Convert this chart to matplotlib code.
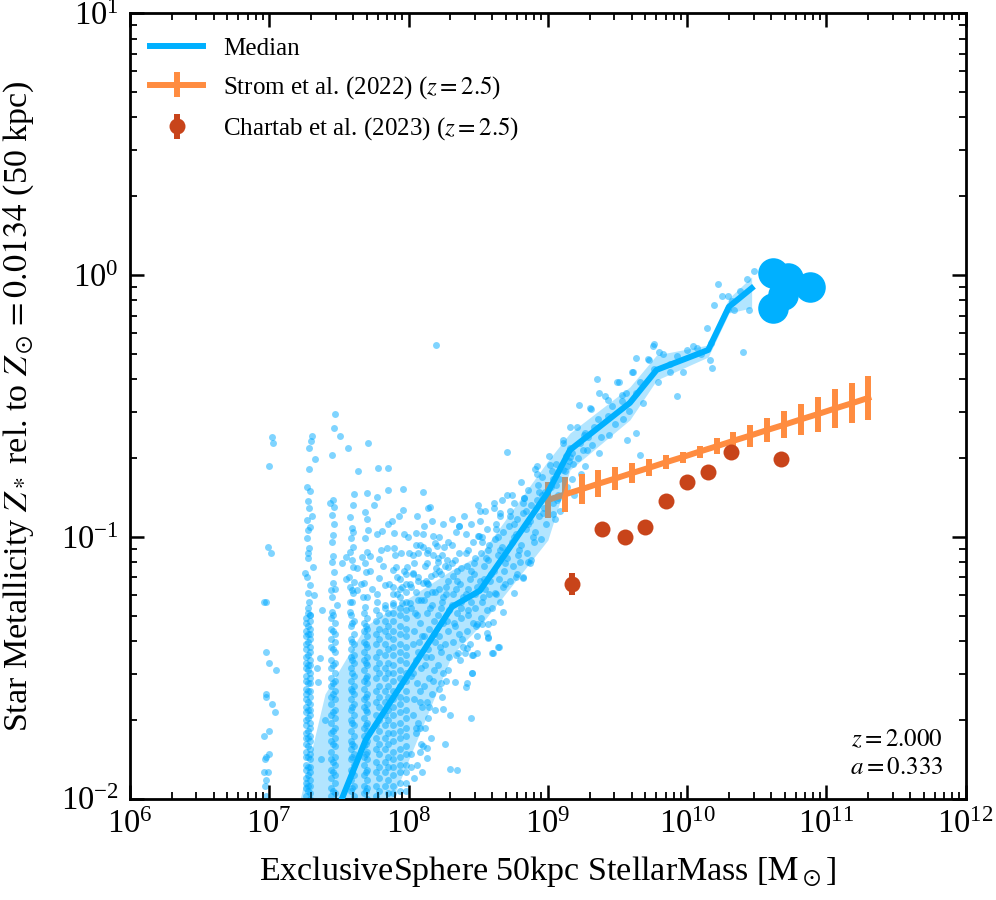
import numpy as np
import matplotlib
matplotlib.use("Agg")
import matplotlib.pyplot as plt

plt.rcParams['font.family'] = ['Liberation Serif', 'DejaVu Serif']
plt.rcParams['mathtext.fontset'] = 'stix'

# ---------------- data (log10 units) ----------------
# median relation and its shaded band
med_logM = [7.20, 7.40, 7.692, 8.312, 8.513, 9.000, 9.159, 9.589, 9.781, 10.151, 10.300, 10.463]
med_logZ = [-2.50, -2.16, -1.776, -1.267, -1.205, -0.830, -0.668, -0.488, -0.362, -0.286, -0.121, -0.050]
band_hi = [-2.05, -1.60, -1.340, -1.126, -1.069, -0.710, -0.603, -0.427, -0.305, -0.267, -0.088, -0.007]
band_lo = [-2.90, -2.65, -2.250, -1.450, -1.340, -1.012, -0.744, -0.553, -0.401, -0.313, -0.145, -0.125]

# most massive individual galaxies
big_logM = [10.616, 10.724, 10.882, 10.616, 10.688]
big_logZ = [0.008, -0.011, -0.045, -0.126, -0.076]

# Strom et al. (2022)
strom_logM = [9.000, 9.121, 9.242, 9.363, 9.484, 9.606, 9.727, 9.848, 9.969, 10.090,
              10.211, 10.332, 10.453, 10.574, 10.695, 10.817, 10.938, 11.059, 11.180, 11.301]
strom_logZ = [-0.859, -0.838, -0.818, -0.797, -0.777, -0.756, -0.736, -0.715, -0.695, -0.674,
              -0.654, -0.633, -0.613, -0.592, -0.572, -0.551, -0.531, -0.510, -0.490, -0.469]
strom_err = [0.069, 0.067, 0.057, 0.052, 0.044, 0.040, 0.032, 0.027, 0.021, 0.023,
             0.031, 0.032, 0.042, 0.046, 0.052, 0.059, 0.067, 0.073, 0.076, 0.084]

# Chartab et al. (2023)
ch_logM = [9.173, 9.391, 9.556, 9.699, 9.848, 10.001, 10.151, 10.317, 10.673]
ch_logZ = [-1.180, -0.971, -0.999, -0.963, -0.863, -0.790, -0.752, -0.676, -0.702]
ch_err = [0.042, 0.02, 0.02, 0.02, 0.02, 0.02, 0.02, 0.02, 0.02]

# ---- individual galaxies (scatter) ----
colA = [(7.02, -0.62), (7.03, -0.64), (7.00, -0.73), (6.99, -1.04), (7.01, -1.06), (6.96, -1.25),
        (6.98, -1.25), (6.98, -1.44), (7.00, -1.48), (7.05, -1.51), (6.98, -1.60), (6.98, -1.61),
        (7.02, -1.64), (7.04, -1.67), (7.00, -1.74), (6.96, -1.76), (7.00, -1.83), (6.98, -1.84),
        (6.97, -1.85), (6.96, -1.90), (6.99, -1.90), (6.98, -1.93), (6.97, -1.95), (6.98, -1.99)]
colB_top = [(7.304, -0.615), (7.297, -0.632), (7.285, -0.660), (7.328, -0.702), (7.283, -0.740),
            (7.268, -0.808), (7.292, -0.825), (7.278, -0.863), (7.283, -0.889), (7.307, -0.920),
            (7.268, -0.935), (7.292, -0.962), (7.280, -0.974), (7.273, -1.005), (7.287, -1.043),
            (7.278, -1.062), (7.280, -1.081), (7.316, -1.116), (7.256, -1.139), (7.273, -1.155),
            (7.292, -1.185), (7.280, -1.216), (7.320, -1.223), (7.287, -1.250), (7.280, -1.273),
            (7.292, -1.300), (7.364, -1.463), (7.350, -1.554), (7.34, -1.50), (7.38, -1.28),
            (7.40, -1.70), (7.37, -1.85)]
colB_a = [-1.31, -1.33, -1.36, -1.38, -1.41, -1.43, -1.46, -1.48, -1.50, -1.53, -1.55, -1.58, -1.60,
          -1.62, -1.65, -1.67, -1.70, -1.72, -1.75, -1.77, -1.79, -1.82, -1.84, -1.87, -1.89, -1.92,
          -1.94, -1.96, -1.99]
colB_b = [-1.30, -1.32, -1.35, -1.37, -1.39, -1.42, -1.44, -1.47, -1.49, -1.52, -1.54, -1.56, -1.59,
          -1.61, -1.64, -1.66, -1.68, -1.71, -1.73, -1.76, -1.78, -1.81, -1.83, -1.85, -1.88, -1.90,
          -1.93, -1.95, -1.98, -2.00]
colB_c = [-1.29, -1.34, -1.37, -1.40, -1.45, -1.49, -1.51, -1.56, -1.59, -1.63, -1.66, -1.69, -1.74,
          -1.77, -1.80, -1.84, -1.88, -1.91, -1.95, -1.97]
colC_top = [(7.464, -0.584), (7.471, -0.531), (7.448, -0.687), (7.508, -0.614), (7.436, -0.871),
            (7.457, -0.859), (7.464, -0.886), (7.448, -0.917), (7.464, -0.951), (7.457, -0.993),
            (7.448, -1.020), (7.455, -1.073), (7.448, -1.096), (7.466, -1.134), (7.455, -1.176),
            (7.443, -1.203), (7.448, -1.230), (7.488, -1.260), (7.448, -1.288)]
colC_a = [-1.31, -1.35, -1.39, -1.42, -1.47, -1.50, -1.54, -1.57, -1.61, -1.64, -1.68, -1.71, -1.75,
          -1.78, -1.82, -1.85, -1.89, -1.92, -1.96, -1.99]
colC_b = [-1.33, -1.37, -1.40, -1.44, -1.48, -1.52, -1.55, -1.59, -1.62, -1.66, -1.69, -1.73, -1.77,
          -1.80, -1.84, -1.87, -1.91, -1.94, -1.98]
colC_c = [-1.30, -1.36, -1.43, -1.49, -1.56, -1.60, -1.67, -1.74, -1.79, -1.86, -1.90, -1.97]
colD_top = [(7.608, -0.836), (7.601, -0.878), (7.579, -0.924), (7.592, -0.966), (7.587, -1.004),
            (7.603, -1.039), (7.592, -1.088), (7.603, -1.115), (7.574, -1.153), (7.608, -1.172),
            (7.579, -1.191), (7.592, -1.203), (7.603, -1.214), (7.592, -1.249), (7.579, -1.287),
            (7.563, -0.659), (7.551, -1.077), (7.579, -1.058)]
colD_a = [-1.30, -1.34, -1.39, -1.43, -1.46, -1.50, -1.55, -1.58, -1.62, -1.66, -1.70, -1.74, -1.78,
          -1.81, -1.85, -1.89, -1.93, -1.97]
colD_b = [-1.32, -1.37, -1.41, -1.45, -1.48, -1.53, -1.57, -1.60, -1.64, -1.68, -1.72, -1.76, -1.80,
          -1.83, -1.87, -1.91, -1.95, -1.99]
colD_c = [-1.33, -1.40, -1.47, -1.52, -1.59, -1.65, -1.71, -1.79, -1.84, -1.90, -1.96]
colE_top = [(7.706, -0.641), (7.699, -0.832), (7.687, -0.905), (7.708, -0.974), (7.687, -1.004),
            (7.699, -1.058), (7.687, -1.100), (7.694, -1.134), (7.680, -1.176), (7.699, -1.230),
            (7.687, -1.268), (7.723, -1.073), (7.665, -1.077), (7.673, -1.230), (7.630, -1.203)]
colE_a = [-1.29, -1.33, -1.36, -1.40, -1.44, -1.47, -1.51, -1.55, -1.58, -1.62, -1.65, -1.69, -1.73,
          -1.76, -1.80, -1.84, -1.87, -1.91, -1.95, -1.98]
colE_b = [-1.31, -1.35, -1.38, -1.42, -1.46, -1.49, -1.53, -1.56, -1.60, -1.64, -1.67, -1.71, -1.74,
          -1.78, -1.82, -1.85, -1.89, -1.93, -1.96, -2.00]
colE_c = [-1.34, -1.41, -1.48, -1.54, -1.61, -1.66, -1.72, -1.79, -1.83, -1.90, -1.97]
colFG_top = [(7.780, -0.737), (7.773, -0.847), (7.809, -0.977), (7.773, -0.989), (7.787, -1.084),
             (7.787, -1.157), (7.773, -1.249), (7.852, -0.737), (7.845, -1.043), (7.831, -1.184),
             (7.831, -1.260), (7.881, -0.939), (7.895, -0.985), (7.895, -1.043), (7.910, -1.115),
             (7.888, -1.127), (7.917, -1.153), (7.888, -1.252), (7.953, -1.191), (7.953, -1.252),
             (7.960, -0.817), (7.960, -0.897), (7.945, -1.062), (7.967, -0.989), (7.989, -1.115),
             (7.996, -1.000)]
colF_a = [-1.28, -1.32, -1.37, -1.41, -1.46, -1.50, -1.54, -1.59, -1.63, -1.68, -1.72, -1.77, -1.81,
          -1.86, -1.90, -1.95, -1.99]
colF_b = [-1.30, -1.35, -1.39, -1.44, -1.48, -1.52, -1.57, -1.61, -1.65, -1.70, -1.74, -1.79, -1.83,
          -1.88, -1.92, -1.97]
colG_a = [-1.27, -1.32, -1.36, -1.41, -1.45, -1.50, -1.54, -1.59, -1.63, -1.68, -1.72, -1.77, -1.81,
          -1.86, -1.90, -1.95]
colG_b = [-1.29, -1.34, -1.38, -1.43, -1.48, -1.52, -1.57, -1.61, -1.66, -1.70, -1.75, -1.79, -1.84,
          -1.88, -1.93, -1.98]
colH = [-1.19, -1.22, -1.26, -1.29, -1.32, -1.36, -1.39, -1.42, -1.45, -1.49, -1.52, -1.55, -1.59,
        -1.62, -1.65, -1.68, -1.72, -1.75, -1.78, -1.82, -1.85, -1.88, -1.91, -1.95, -1.98]
colI = [-1.16, -1.20, -1.23, -1.27, -1.30, -1.34, -1.37, -1.41, -1.44, -1.47, -1.51, -1.54, -1.57,
        -1.61, -1.64, -1.67, -1.71, -1.74, -1.77, -1.81, -1.84, -1.87, -1.90, -1.94, -1.97]
colJ = [-1.14, -1.18, -1.21, -1.25, -1.28, -1.31, -1.35, -1.38, -1.42, -1.45, -1.48, -1.52, -1.55,
        -1.59, -1.62, -1.66, -1.69, -1.73, -1.76, -1.80, -1.83, -1.87, -1.90, -1.94, -1.97]
col_logM = {'B_a': 7.262, 'B_b': 7.292, 'B_c': 7.278, 'C_a': 7.440, 'C_b': 7.475, 'C_c': 7.458,
            'D_a': 7.585, 'D_b': 7.610, 'D_c': 7.597, 'E_a': 7.680, 'E_b': 7.705, 'E_c': 7.692,
            'F_a': 7.765, 'F_b': 7.785, 'G_a': 7.830, 'G_b': 7.850,
            'H': 7.885, 'I': 7.936, 'J': 7.982}

cloud = [
    (8.03, -1.14), (8.07, -1.17), (8.05, -1.21), (8.09, -1.24), (8.02, -1.27), (8.06, -1.30), (8.08, -1.33),
    (8.04, -1.36), (8.10, -1.38), (8.03, -1.41), (8.07, -1.44), (8.05, -1.47), (8.09, -1.50), (8.02, -1.53),
    (8.06, -1.56), (8.08, -1.59), (8.04, -1.62), (8.10, -1.65), (8.03, -1.68), (8.07, -1.71), (8.05, -1.75),
    (8.09, -1.79), (8.02, -1.83), (8.06, -1.87), (8.04, -1.92), (8.08, -1.82),
    (8.12, -1.11), (8.16, -1.15), (8.14, -1.18), (8.19, -1.21), (8.11, -1.24), (8.17, -1.26), (8.13, -1.29),
    (8.18, -1.32), (8.15, -1.35), (8.11, -1.38), (8.19, -1.40), (8.14, -1.43), (8.16, -1.46), (8.12, -1.49),
    (8.18, -1.51), (8.15, -1.54), (8.11, -1.57), (8.17, -1.60), (8.13, -1.63), (8.19, -1.66), (8.14, -1.69),
    (8.12, -1.73), (8.16, -1.77), (8.13, -1.22),
    (8.21, -1.08), (8.26, -1.11), (8.23, -1.14), (8.28, -1.17), (8.22, -1.20), (8.27, -1.22), (8.24, -1.25),
    (8.29, -1.28), (8.21, -1.30), (8.25, -1.33), (8.28, -1.36), (8.22, -1.38), (8.26, -1.41), (8.23, -1.44),
    (8.29, -1.46), (8.21, -1.49), (8.25, -1.52), (8.27, -1.55), (8.22, -1.58), (8.24, -1.61), (8.27, -1.19),
    (8.23, -1.27),
    (8.31, -1.03), (8.36, -1.06), (8.33, -1.09), (8.38, -1.12), (8.32, -1.15), (8.37, -1.18), (8.34, -1.20),
    (8.39, -1.23), (8.31, -1.26), (8.35, -1.29), (8.38, -1.31), (8.33, -1.34), (8.36, -1.37), (8.32, -1.40),
    (8.39, -1.42), (8.34, -1.45), (8.37, -1.47), (8.35, -1.13), (8.32, -1.22), (8.38, -1.27),
    (8.41, -0.99), (8.46, -1.02), (8.43, -1.05), (8.48, -1.08), (8.42, -1.11), (8.47, -1.14), (8.44, -1.16),
    (8.49, -1.19), (8.41, -1.22), (8.45, -1.25), (8.48, -1.27), (8.43, -1.30), (8.46, -1.33), (8.42, -1.36),
    (8.49, -1.38), (8.44, -1.41), (8.47, -1.10), (8.43, -1.20),
    (8.51, -0.94), (8.56, -0.97), (8.53, -1.00), (8.58, -1.03), (8.52, -1.06), (8.57, -1.09), (8.54, -1.11),
    (8.59, -1.14), (8.51, -1.17), (8.55, -1.20), (8.58, -1.22), (8.53, -1.25), (8.56, -1.28), (8.52, -1.31),
    (8.57, -1.05), (8.54, -1.16),
    (8.61, -0.89), (8.66, -0.92), (8.63, -0.95), (8.68, -0.98), (8.62, -1.01), (8.67, -1.04), (8.64, -1.07),
    (8.69, -1.10), (8.61, -1.13), (8.65, -1.16), (8.68, -1.19), (8.63, -1.22), (8.66, -1.25), (8.64, -1.00),
    (8.71, -0.84), (8.76, -0.87), (8.73, -0.90), (8.78, -0.93), (8.72, -0.96), (8.77, -0.99), (8.74, -1.02),
    (8.79, -1.05), (8.71, -1.08), (8.75, -1.11), (8.78, -1.14), (8.73, -1.17), (8.76, -0.95),
    (8.81, -0.79), (8.86, -0.82), (8.83, -0.85), (8.88, -0.88), (8.82, -0.91), (8.87, -0.94), (8.84, -0.97),
    (8.89, -1.00), (8.81, -1.03), (8.85, -1.06), (8.88, -1.09), (8.84, -0.90),
    (8.91, -0.74), (8.96, -0.77), (8.93, -0.80), (8.98, -0.83), (8.92, -0.86), (8.97, -0.89), (8.94, -0.92),
    (8.99, -0.95), (8.91, -0.98), (8.95, -1.01), (8.96, -0.84),
    (9.01, -0.69), (9.06, -0.72), (9.03, -0.75), (9.08, -0.78), (9.02, -0.81), (9.07, -0.84), (9.04, -0.87),
    (9.09, -0.90), (9.05, -0.93), (9.06, -0.80),
    (9.11, -0.63), (9.16, -0.66), (9.13, -0.69), (9.18, -0.72), (9.12, -0.75), (9.17, -0.78), (9.14, -0.81),
    (9.19, -0.84), (9.15, -0.71),
    (9.21, -0.58), (9.26, -0.61), (9.23, -0.64), (9.28, -0.67), (9.22, -0.70), (9.27, -0.73), (9.24, -0.76),
    (9.29, -0.62),
    (9.31, -0.51), (9.36, -0.55), (9.33, -0.58), (9.38, -0.62), (9.32, -0.65), (9.37, -0.68),
    (9.41, -0.46), (9.46, -0.50), (9.43, -0.54), (9.48, -0.57), (9.44, -0.61),
    (9.51, -0.41), (9.56, -0.45), (9.53, -0.48), (9.58, -0.52), (9.54, -0.55),
    (9.61, -0.37), (9.66, -0.41), (9.63, -0.45), (9.68, -0.49),
    (9.72, -0.32), (9.76, -0.36), (9.79, -0.41),
    (9.83, -0.30), (9.88, -0.34), (9.93, -0.31), (9.97, -0.37),
    (10.04, -0.27), (10.10, -0.30), (10.17, -0.26),
    (10.25, -0.08), (10.32, -0.10), (10.38, -0.06), (10.29, -0.13)]

cloud2 = [
    (8.015, -1.19), (8.045, -1.29), (8.075, -1.40), (8.035, -1.52), (8.085, -1.63), (8.055, -1.73),
    (8.015, -1.88), (8.095, -1.90), (8.125, -1.17), (8.155, -1.27), (8.185, -1.37), (8.125, -1.46),
    (8.175, -1.55), (8.145, -1.65), (8.105, -1.80), (8.215, -1.13), (8.245, -1.23), (8.275, -1.32),
    (8.225, -1.42), (8.285, -1.51), (8.235, -1.56), (8.315, -1.10), (8.345, -1.17), (8.375, -1.25),
    (8.325, -1.33), (8.385, -1.39), (8.415, -1.06), (8.445, -1.13), (8.475, -1.22), (8.425, -1.28),
    (8.485, -1.34), (8.525, -1.02), (8.555, -1.08), (8.585, -1.17), (8.535, -1.23), (8.625, -0.97),
    (8.655, -1.05), (8.685, -1.13), (8.725, -0.92), (8.755, -1.00), (8.785, -1.07), (8.825, -0.87),
    (8.855, -0.95), (8.935, -0.83), (8.965, -0.91), (9.035, -0.78), (9.065, -0.86), (9.135, -0.73),
    (9.175, -0.68)]

halo = [
    (8.103, -0.829), (8.139, -0.890), (8.053, -0.985), (8.103, -0.989), (8.175, -0.997), (8.190, -1.023),
    (8.053, -1.031), (8.103, -1.039), (8.204, -1.035), (8.032, -1.069), (8.067, -1.062), (8.132, -1.062),
    (8.175, -1.069), (8.240, -1.069), (8.254, -1.039), (8.276, -1.088), (8.132, -1.100), (8.032, -1.138),
    (8.067, -1.153), (8.103, -1.176), (8.190, -1.142), (8.211, -1.096), (8.283, -1.115), (8.132, -1.176),
    (8.168, -1.210), (8.067, -1.241), (8.010, -1.252),
    (8.362, -0.958), (8.498, -0.997), (8.704, -0.676), (8.513, -0.901), (8.613, -0.871), (8.668, -0.859),
    (8.740, -0.840), (8.828, -0.851), (8.922, -0.760), (9.015, -0.725), (9.108, -0.641), (8.800, -1.096),
    (8.872, -1.100), (8.819, -1.157), (8.692, -1.180), (8.678, -1.287), (8.642, -1.420), (8.599, -1.443),
    (8.491, -1.443), (8.453, -1.451), (8.333, -1.554), (8.297, -1.680), (8.345, -1.890), (8.297, -1.887),
    (8.448, -1.692), (8.245, -1.657), (8.132, -1.844), (8.130, -1.806), (8.082, -1.730), (8.195, -0.267),
    (8.261, -1.791), (8.419, -1.558), (8.412, -1.573), (8.453, -1.520), (8.568, -1.382), (8.606, -1.443),
    (8.649, -1.420), (8.355, -1.443), (8.405, -1.443), (8.462, -1.451), (8.570, -1.386), (8.419, -1.424),
    (8.455, -1.520), (8.771, -1.153), (8.821, -1.153), (8.857, -1.096), (8.756, -1.214), (8.620, -1.214),
    (8.599, -1.272), (8.606, -1.325), (8.570, -1.333), (8.527, -1.333), (8.491, -1.333), (8.563, -1.367),
    (8.924, -0.729), (8.656, -0.907), (8.364, -0.957), (8.505, -0.997), (8.154, -0.886),
    (9.037, -0.914), (9.073, -0.853), (8.900, -1.018), (9.223, -0.496), (9.159, -0.579), (9.266, -0.603),
    (9.252, -0.668), (9.566, -0.630), (9.632, -0.602), (9.661, -0.687), (9.350, -0.397), (9.367, -0.450),
    (9.496, -0.407), (9.530, -0.458), (9.602, -0.369), (9.632, -0.317), (9.726, -0.324), (9.752, -0.271),
    (9.762, -0.263), (9.798, -0.293), (9.925, -0.462), (9.877, -0.369), (9.996, -0.286), (10.068, -0.278),
    (10.164, -0.324), (10.176, -0.355), (10.140, -0.202), (10.192, -0.114), (10.221, -0.034),
    (10.293, -0.080), (10.400, -0.293), (10.427, -0.015), (10.443, -0.133), (10.336, -0.133),
    (10.479, 0.016), (9.431, -0.477), (9.302, -0.508), (9.159, -0.694), (9.108, -0.744)]

halo2 = [
    (7.52, -1.10), (7.55, -1.16), (7.63, -1.12), (7.66, -1.18), (7.72, -1.13), (7.74, -1.20), (7.80, -1.05),
    (7.82, -1.11), (7.86, -1.18), (7.90, -1.07), (7.92, -1.22), (7.97, -1.13), (8.00, -1.06), (8.01, -1.18),
    (8.04, -1.10), (8.08, -1.03), (8.11, -0.96), (8.14, -1.05), (8.17, -0.94), (8.20, -1.12), (8.22, -1.00),
    (8.25, -0.95), (8.28, -1.02), (8.31, -0.93), (8.34, -0.98), (8.40, -0.92), (8.45, -0.95), (8.50, -0.88),
    (8.55, -0.90), (7.60, -0.98), (7.70, -0.93), (7.75, -0.88), (7.85, -0.95), (7.93, -0.92), (8.06, -0.92),
    (7.47, -1.20), (7.58, -1.25), (7.77, -1.22), (7.64, -0.75), (7.85, -0.82)]

# ---------------- assemble scatter ----------------
pts = list(colA) + list(colB_top) + list(colC_top) + list(colD_top) + list(colE_top) + list(colFG_top)
dense = {'B_a': colB_a, 'B_b': colB_b, 'B_c': colB_c, 'C_a': colC_a, 'C_b': colC_b, 'C_c': colC_c,
         'D_a': colD_a, 'D_b': colD_b, 'D_c': colD_c, 'E_a': colE_a, 'E_b': colE_b, 'E_c': colE_c,
         'F_a': colF_a, 'F_b': colF_b, 'G_a': colG_a, 'G_b': colG_b,
         'H': colH, 'I': colI, 'J': colJ}
for key, vals in dense.items():
    pts += [(col_logM[key], v) for v in vals]
pts += cloud + cloud2 + halo + halo2
pts = np.array(pts)

BLUE = '#00AAFF'
LINEBLUE = '#00B0FF'
ORANGE = '#FF8C40'
RED = '#C8441A'

fig = plt.figure(figsize=(9.96, 9.0), dpi=100)
ax = fig.add_axes([0.1305, 0.1126, 0.8391, 0.8726])
ax.set_xscale('log')
ax.set_yscale('log')

ax.scatter(10 ** pts[:, 0], 10 ** pts[:, 1], s=25, color=BLUE, alpha=0.5, linewidths=0, zorder=1)

# Strom
sx = 10 ** np.array(strom_logM)
sy = 10 ** np.array(strom_logZ)
se = np.array(strom_err)
ax.errorbar(sx, sy, yerr=[sy - 10 ** (np.array(strom_logZ) - se), 10 ** (np.array(strom_logZ) + se) - sy],
            color=ORANGE, lw=4.3, elinewidth=4.3, capsize=0, zorder=1.5,
            label=r'Strom et al. (2022) ($z = 2.5$)')

# band + median
mx = 10 ** np.array(med_logM)
ax.fill_between(mx, 10 ** np.array(band_lo), 10 ** np.array(band_hi), color=BLUE, alpha=0.3, lw=0, zorder=2)
ax.plot(mx, 10 ** np.array(med_logZ), color=LINEBLUE, lw=4.3, zorder=3, label='Median')
ax.plot(10 ** np.array(big_logM), 10 ** np.array(big_logZ), 'o', color=LINEBLUE, ms=22, mew=0, zorder=3)

# Chartab
cx = 10 ** np.array(ch_logM)
cy = 10 ** np.array(ch_logZ)
ce = np.array(ch_err)
ax.errorbar(cx, cy, yerr=[cy - 10 ** (np.array(ch_logZ) - ce), 10 ** (np.array(ch_logZ) + ce) - cy],
            fmt='o', color=RED, ms=11.5, mew=0, elinewidth=4.3, capsize=0, zorder=4,
            label=r'Chartab et al. (2023) ($z = 2.5$)')

ax.set_xlim(1e6, 1e12)
ax.set_ylim(1e-2, 1e1)

ax.set_xlabel(r'ExclusiveSphere 50kpc StellarMass [$\mathrm{M}_\odot$]', fontsize=24.5, labelpad=10)
ax.set_ylabel(r'Star Metallicity $Z_*$ rel. to $Z_\odot = 0.0134$ (50 kpc)', fontsize=24.5)
ax.yaxis.set_label_coords(-0.112, 0.5)

ax.tick_params(which='both', direction='in', top=True, right=True, labelsize=23.5)
ax.tick_params(which='major', length=10, width=1.8, pad=8)
ax.tick_params(which='minor', length=5, width=1.3)
for sp in ax.spines.values():
    sp.set_linewidth(2.0)

h, l = ax.get_legend_handles_labels()
order = [l.index('Median'), l.index(r'Strom et al. (2022) ($z = 2.5$)'),
         l.index(r'Chartab et al. (2023) ($z = 2.5$)')]
ax.legend([h[i] for i in order], [l[i] for i in order], loc='upper left', frameon=False,
          bbox_to_anchor=(-0.004, 1.0), fontsize=18, borderaxespad=0.55, handlelength=2.1,
          handletextpad=0.8, labelspacing=0.58)

ax.text(0.973, 0.075, r'$z = 2.000$', transform=ax.transAxes, ha='right', va='center', fontsize=18)
ax.text(0.973, 0.039, r'$a = 0.333$', transform=ax.transAxes, ha='right', va='center', fontsize=18)

fig.savefig('out.png', dpi=100)
